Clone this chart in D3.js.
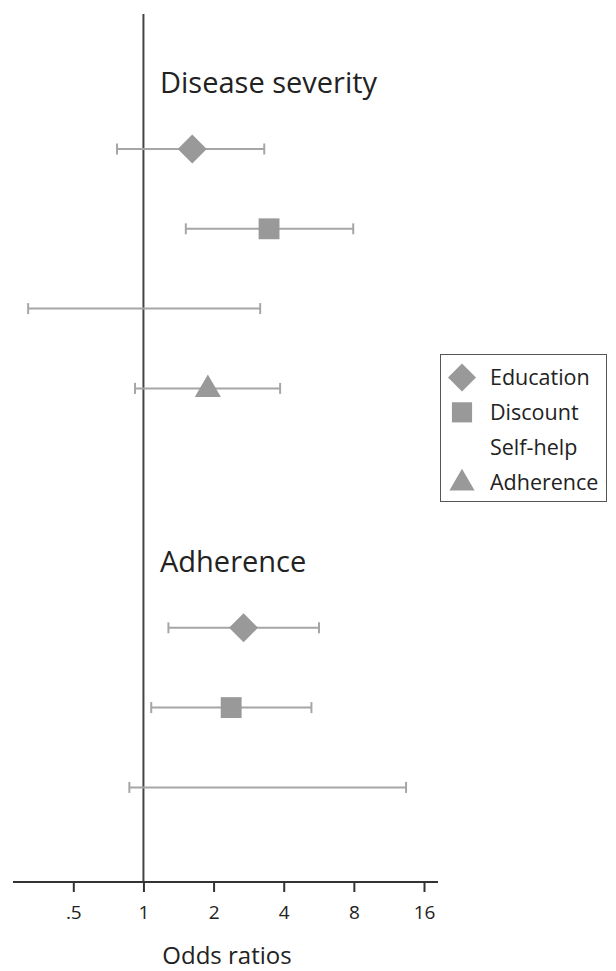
<!DOCTYPE html>
<html>
<head>
<meta charset="utf-8">
<script src="https://cdn.jsdelivr.net/npm/d3@7"></script>
<style>
  html, body { margin: 0; padding: 0; background: #fff; }
  svg { display: block; font-family: "Open Sans", "Noto Sans", sans-serif; }
</style>
</head>
<body>
<svg id="chart" width="616" height="971"></svg>
<script>
// Odds ratios with 95% confidence intervals, grouped by outcome
const groups = ["Disease severity", "Adherence"];
const interventions = ["Education", "Discount", "Self-help", "Adherence"];
const markerShapes = ["diamond", "square", "none", "triangle"];

// Disease severity rows
const severityIntervention = ["Education", "Discount", "Self-help", "Adherence"];
const severityOR    = [1.62, 3.46, null, 1.89];
const severityLower = [0.77, 1.52, 0.32, 0.92];
const severityUpper = [3.30, 7.95, 3.17, 3.86];

// Adherence rows
const adherenceIntervention = ["Education", "Discount", "Self-help"];
const adherenceOR    = [2.69, 2.38, null];
const adherenceLower = [1.28, 1.08, 0.87];
const adherenceUpper = [5.67, 5.26, 13.4];

const tickValues = [0.5, 1, 2, 4, 8, 16];
const tickLabels = [".5", "1", "2", "4", "8", "16"];
const xTitle = "Odds ratios";

const rows = [];
severityIntervention.forEach((k, i) => rows.push({group: 0, slot: i, key: k,
  or: severityOR[i], lo: severityLower[i], hi: severityUpper[i]}));
adherenceIntervention.forEach((k, i) => rows.push({group: 1, slot: 6 + i, key: k,
  or: adherenceOR[i], lo: adherenceLower[i], hi: adherenceUpper[i]}));

const svg = d3.select("#chart");
const markColor = "#999999";
const barColor = "#a6a6a6";
const textColor = "#222222";

const x = d3.scaleLog().base(2).domain([0.5, 16]).range([73.3, 424]);
const y = d3.scaleLinear().domain([0, 1]).range([149, 228.8]);
const axisY = 882;

// reference line at OR = 1
svg.append("line")
  .attr("x1", x(1)).attr("x2", x(1))
  .attr("y1", 14).attr("y2", axisY)
  .attr("stroke", "#444").attr("stroke-width", 2);

// x axis
svg.append("line")
  .attr("x1", 13).attr("x2", 438)
  .attr("y1", axisY).attr("y2", axisY)
  .attr("stroke", "#333").attr("stroke-width", 2);

const axis = d3.axisBottom(x)
  .tickValues(tickValues)
  .tickSizeInner(10).tickSizeOuter(0).tickPadding(13.5)
  .tickFormat((d, i) => tickLabels[i]);
const gAxis = svg.append("g").attr("transform", `translate(0,${axisY})`).call(axis);
gAxis.select(".domain").remove();
gAxis.selectAll(".tick line").attr("stroke", "#333").attr("stroke-width", 2);
gAxis.selectAll(".tick text")
  .attr("fill", textColor)
  .style("font-size", "19px")
  .style("font-family", "'Open Sans', sans-serif");

svg.append("text")
  .attr("x", 227).attr("y", 964)
  .attr("text-anchor", "middle")
  .attr("fill", textColor)
  .style("font-size", "24px")
  .text(xTitle);

// group titles
const titleSlots = [-0.705, 5.3];
groups.forEach((g, i) => {
  svg.append("text")
    .attr("x", 160).attr("y", y(titleSlots[i]))
    .attr("fill", textColor)
    .style("font-size", "29px")
    .text(g);
});

// symbol path generator centred at 0,0
function shapePath(shape, s) {
  if (shape === "diamond") return `M0,${-s}L${s},0L0,${s}L${-s},0Z`;
  if (shape === "square") return `M${-s*0.72},${-s*0.72}H${s*0.72}V${s*0.72}H${-s*0.72}Z`;
  if (shape === "triangle") return `M0,${-s*0.95}L${s*0.9},${s*0.6}L${-s*0.9},${s*0.6}Z`;
  return null;
}
const shapeOf = k => markerShapes[interventions.indexOf(k)];

// confidence interval bars
const capH = 5.5;
const gRows = svg.append("g").selectAll("g").data(rows).join("g")
  .attr("transform", d => `translate(0,${y(d.slot)})`);
gRows.append("line")
  .attr("x1", d => x(d.lo)).attr("x2", d => x(d.hi))
  .attr("stroke", barColor).attr("stroke-width", 2);
gRows.append("line")
  .attr("x1", d => x(d.lo)).attr("x2", d => x(d.lo))
  .attr("y1", -capH).attr("y2", capH)
  .attr("stroke", barColor).attr("stroke-width", 2);
gRows.append("line")
  .attr("x1", d => x(d.hi)).attr("x2", d => x(d.hi))
  .attr("y1", -capH).attr("y2", capH)
  .attr("stroke", barColor).attr("stroke-width", 2);

// point estimates
gRows.filter(d => d.or != null && shapeOf(d.key) !== "none")
  .append("path")
  .attr("transform", d => `translate(${x(d.or)},0)`)
  .attr("d", d => shapePath(shapeOf(d.key), 14.5))
  .attr("fill", markColor);

// legend
const legend = svg.append("g");
legend.append("rect")
  .attr("x", 440.5).attr("y", 354.5).attr("width", 166).attr("height", 147)
  .attr("fill", "#fff").attr("stroke", "#555").attr("stroke-width", 1);
const ly = d3.scalePoint().domain(interventions).range([377.5, 482]);
const li = legend.selectAll("g.item").data(interventions).join("g")
  .attr("class", "item")
  .attr("transform", d => `translate(0,${ly(d)})`);
li.filter(d => shapeOf(d) !== "none").append("path")
  .attr("transform", "translate(462,0)")
  .attr("d", d => shapePath(shapeOf(d), 14))
  .attr("fill", markColor);
li.append("text")
  .attr("x", 490).attr("dy", "0.35em")
  .attr("fill", textColor)
  .style("font-size", "21.5px")
  .text(d => d);
</script>
</body>
</html>
